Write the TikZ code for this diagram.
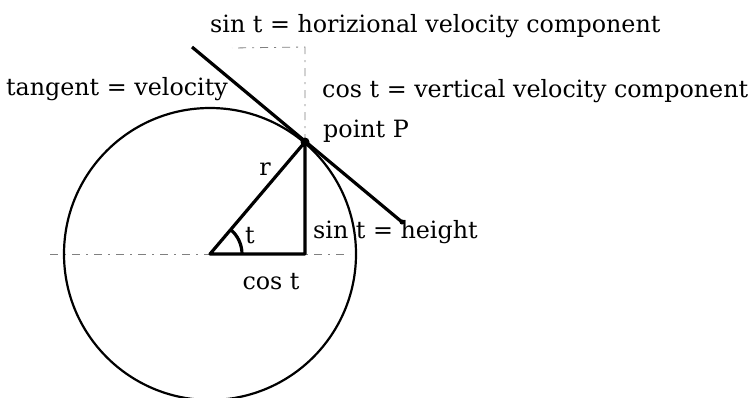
\documentclass[tikz,border=0pt]{standalone}
\usepackage{fontspec}
\setmainfont{DejaVu Serif}
\begin{document}
\begin{tikzpicture}[x=1pt,y=-1pt,
  lbl/.style={inner sep=0pt,font=\fontsize{23.8}{28}\selectfont},
  thick line/.style={line width=3.2pt},
  thin dash/.style={gray,line width=0.8pt,dash pattern=on 8pt off 6pt on 2pt off 6pt}]
\useasboundingbox[fill=white] (0,0) rectangle (751,397);
% points
\coordinate (O) at (210,254);
\coordinate (P) at (305,142);
\coordinate (Q) at (305,254);
\coordinate (T1) at (192,47);
\coordinate (T2) at (402,222);
\coordinate (HL) at (50,254);
\coordinate (HR) at (350,254);
\coordinate (VT) at (305,47);
\coordinate (VL) at (232,48);
% dashed guides
\draw[thin dash] (HL) -- (HR);
\draw[thin dash] (P) -- (VT) -- (VL);
% circle
\draw[line width=2.2pt] (O) circle[radius=146];
% triangle
\draw[thick line,line join=round] (O) -- (P) -- (Q) -- cycle;
% angle arc
\draw[thick line] ([xshift=32pt]O) arc[start angle=0,end angle=-49.7,radius=32];
% tangent
\draw[thick line] (T1) -- (T2);
\fill (P) circle[radius=4.5];
\fill (T2) circle[radius=2.5];
% labels
\node[lbl,anchor=base west] (top) at (210,32) {sin t = horizional velocity component};
\node[lbl,anchor=base east] (tv) at (228,95) {tangent = velocity};
\node[lbl,anchor=base west] (cv) at (322,97) {cos t = vertical velocity component};
\node[lbl,anchor=base west] (pp) at (323,137) {point P};
\node[lbl,anchor=base] (r) at (265,175) {r};
\node[lbl,anchor=base] (t) at (250,243) {t};
\node[lbl,anchor=base west] (sh) at (313,238) {sin t = height};
\node[lbl,anchor=base] (ct) at (271,289) {cos t};
\end{tikzpicture}
\end{document}
